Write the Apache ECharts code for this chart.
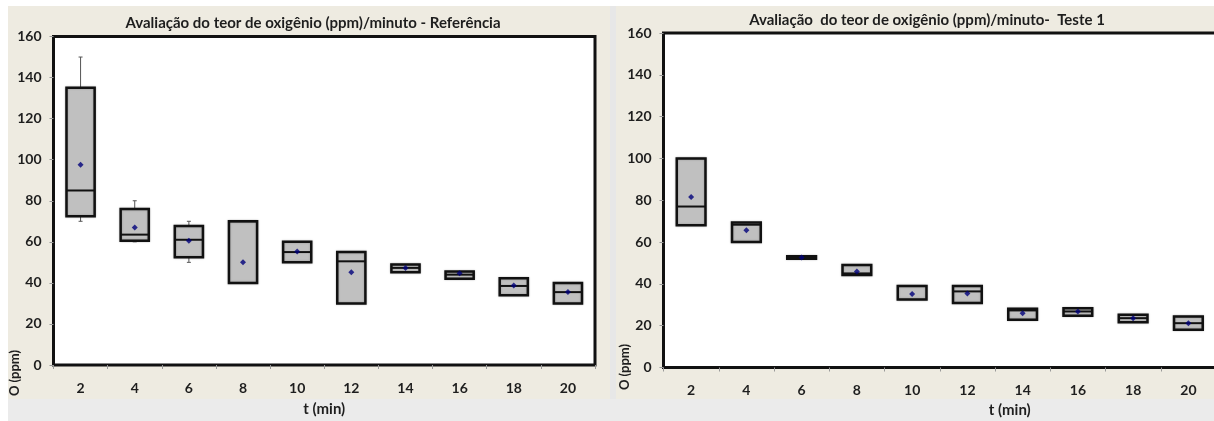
<!DOCTYPE html>
<html>
<head>
<meta charset="utf-8">
<script src="https://cdn.jsdelivr.net/npm/echarts@6/dist/echarts.min.js"></script>
<style>html,body{margin:0;padding:0;background:#fff}#c{width:1214px;height:421px}</style>
</head>
<body>
<div id="c"></div>
<script>
// ---- data ----
const categories = ['2','4','6','8','10','12','14','16','18','20'];
const yTicks = [0,20,40,60,80,100,120,140,160];

// Referência
const refMin  = [70, 60, 50, 40, 50, 30, 45.2, 42, 34, 30];
const refQ1   = [72.5, 60.5, 52.5, 40, 50, 30, 45.2, 42, 34, 30];
const refMed  = [85, 63.5, 61, 70, 55, 50.5, 47.3, 44, 38.5, 35.5];
const refQ3   = [135, 76, 67.7, 70, 60, 55, 49, 45.5, 42.3, 40];
const refMax  = [150, 80, 70, 70, 60, 55, 49, 45.5, 42.3, 40];
const refMean = [97.5, 67, 60.5, 50, 55.3, 45.2, 47.3, 44.7, 38.7, 35.5];

// Teste 1
const t1Min  = [68, 60, 52, 44.3, 32.5, 30.8, 22.8, 24.7, 21.7, 18];
const t1Q1   = [68, 60, 52, 44.3, 32.5, 30.8, 22.8, 24.7, 21.7, 18];
const t1Med  = [77, 68.3, 52.6, 45, 39, 36.4, 27.3, 26.8, 23.6, 21.2];
const t1Q3   = [100, 69.3, 53.2, 49, 39, 39, 28.1, 28.4, 25.2, 24.4];
const t1Max  = [100, 69.3, 53.2, 49, 39, 39, 28.1, 28.4, 25.2, 24.4];
const t1Mean = [81.5, 65.6, 52.6, 45.9, 35.1, 35.4, 26, 26.8, 23.5, 21.2];

const titleRef = 'Avaliação do teor de oxigênio (ppm)/minuto - Referência';
const titleT1 = 'Avaliação  do teor de oxigênio (ppm)/minuto-  Teste 1';
const xName = 't (min)';
const yName = 'O (ppm)';

// ---- chart ----
const FONT = 'Lato';
const TXT = '#1e1e1e';
function boxRows(mn,q1,md,q3,mx){return categories.map((c,i)=>[i,mn[i],q1[i],md[i],q3[i],mx[i]]);}
function meanRows(m){return categories.map((c,i)=>[i,m[i]]);}

function renderBox(params, api){
  const i = api.value(0);
  const vals = [api.value(1),api.value(2),api.value(3),api.value(4),api.value(5)];
  const pMin = api.coord([i, vals[0]]), pQ1 = api.coord([i, vals[1]]), pMed = api.coord([i, vals[2]]),
        pQ3 = api.coord([i, vals[3]]), pMax = api.coord([i, vals[4]]);
  const bw = api.size([1,0])[0]*0.52;
  const x = pQ1[0];
  const children = [];
  const wh = {stroke:'#555', lineWidth:1};
  if (vals[4] > vals[3]) {
    children.push({type:'line', shape:{x1:x,y1:pQ3[1],x2:x,y2:pMax[1]}, style:wh});
    children.push({type:'line', shape:{x1:x-2,y1:pMax[1],x2:x+2,y2:pMax[1]}, style:wh});
  }
  if (vals[0] < vals[1]) {
    children.push({type:'line', shape:{x1:x,y1:pQ1[1],x2:x,y2:pMin[1]}, style:wh});
    children.push({type:'line', shape:{x1:x-2,y1:pMin[1],x2:x+2,y2:pMin[1]}, style:wh});
  }
  children.push({type:'rect', shape:{x:x-bw/2, y:pQ3[1], width:bw, height:pQ1[1]-pQ3[1]},
    style:{fill:'#c0c0c0', stroke:'#111', lineWidth:2.5, shadowColor:'rgba(0,0,0,0.25)', shadowBlur:2}});
  children.push({type:'line', shape:{x1:x-bw/2,y1:pMed[1],x2:x+bw/2,y2:pMed[1]}, style:{stroke:'#111', lineWidth:2}});
  return {type:'group', children};
}

function xAxisCfg(gi, nameOffset, gap){
  return {
    type:'category', gridIndex:gi, data:categories, boundaryGap:true,
    name:xName, nameLocation:'middle', nameGap:gap,
    nameTextStyle:{fontFamily:FONT, fontWeight:'bold', fontSize:15, color:TXT, padding:[0,0,0,nameOffset]},
    axisLine:{show:false},
    axisTick:{show:true, length:4, lineStyle:{color:'#999', width:1}},
    axisLabel:{fontFamily:FONT, fontWeight:'bold', fontSize:14, color:TXT, margin:16},
    splitLine:{show:false}
  };
}
function yAxisCfg(gi){
  return {
    type:'value', gridIndex:gi, min:0, max:160, interval:20,
    axisLine:{show:false},
    axisTick:{show:true, length:4, lineStyle:{color:'#999', width:1}},
    axisLabel:{fontFamily:FONT, fontWeight:'bold', fontSize:14, color:TXT, margin:12,
      formatter:v=> yTicks.includes(v) ? String(v) : ''},
    splitLine:{show:false}
  };
}

const chart = echarts.init(document.getElementById('c'), null, {renderer:'canvas'});
chart.setOption({
  backgroundColor:'#ffffff',
  animation:false,
  graphic:[
    {type:'rect', z:-10, shape:{x:8,y:6,width:602,height:393}, style:{fill:'#eeebe1'}},
    {type:'rect', z:-10, shape:{x:610,y:6,width:6,height:393}, style:{fill:'#e7e7e7'}},
    {type:'rect', z:-10, shape:{x:616,y:6,width:598,height:393}, style:{fill:'#eeebe1'}},
    {type:'rect', z:-10, shape:{x:8,y:399,width:1206,height:22}, style:{fill:'#ebebeb'}},
    {type:'text', x:15, y:373, rotation:Math.PI/2,
      style:{text:yName, fontFamily:FONT, fontWeight:'bold', fontSize:13, fill:TXT, align:'center', verticalAlign:'middle'}},
    {type:'text', x:625, y:367, rotation:Math.PI/2,
      style:{text:yName, fontFamily:FONT, fontWeight:'bold', fontSize:13, fill:TXT, align:'center', verticalAlign:'middle'}}
  ],
  title:[
    {text:titleRef, left:308, top:11, textAlign:'center',
      textStyle:{fontFamily:FONT, fontWeight:'bold', fontSize:15, color:TXT}},
    {text:titleT1, left:922, top:8, textAlign:'center',
      textStyle:{fontFamily:FONT, fontWeight:'bold', fontSize:15, color:TXT}}
  ],
  grid:[
    {left:53.5, top:36.5, width:541.5, height:328.5, outerBoundsMode:'none', containLabel:false,
      show:true, backgroundColor:'#fff', borderColor:'#111', borderWidth:3},
    {left:663.5, top:33, width:552.5, height:334.5, outerBoundsMode:'none', containLabel:false,
      show:true, backgroundColor:'#fff', borderColor:'#111', borderWidth:3}
  ],
  xAxis:[xAxisCfg(0,0,37), xAxisCfg(1,140,35)],
  yAxis:[yAxisCfg(0), yAxisCfg(1)],
  series:[
    {type:'custom', xAxisIndex:0, yAxisIndex:0, renderItem:renderBox, encode:{x:0,y:[1,2,3,4,5]},
      data:boxRows(refMin,refQ1,refMed,refQ3,refMax), z:2},
    {type:'scatter', xAxisIndex:0, yAxisIndex:0, symbol:'diamond', symbolSize:6,
      itemStyle:{color:'#00007a'}, data:meanRows(refMean), z:5},
    {type:'custom', xAxisIndex:1, yAxisIndex:1, renderItem:renderBox, encode:{x:0,y:[1,2,3,4,5]},
      data:boxRows(t1Min,t1Q1,t1Med,t1Q3,t1Max), z:2},
    {type:'scatter', xAxisIndex:1, yAxisIndex:1, symbol:'diamond', symbolSize:6,
      itemStyle:{color:'#00007a'}, data:meanRows(t1Mean), z:5}
  ]
});
</script>
</body>
</html>
